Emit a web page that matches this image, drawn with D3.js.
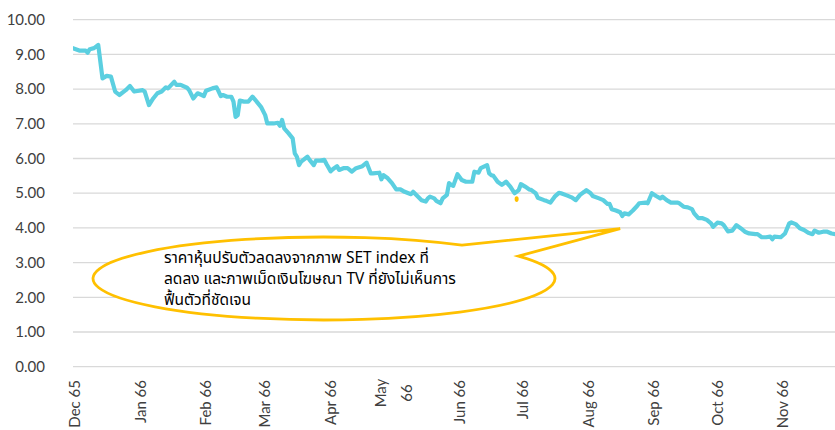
<!DOCTYPE html>
<html>
<head>
<meta charset="utf-8">
<script src="https://cdn.jsdelivr.net/npm/d3@7"></script>
<style>
  html, body { margin: 0; padding: 0; background: #fff; }
  svg { display: block; }
</style>
</head>
<body>
<svg id="chart" width="835" height="430"></svg>
<script>
// ---------------- DATA ----------------
const dates = [
  "2022-11-30","2022-12-03","2022-12-06","2022-12-07","2022-12-08","2022-12-10","2022-12-12","2022-12-14","2022-12-16","2022-12-18",
  "2022-12-20","2022-12-22","2022-12-25","2022-12-27","2022-12-29",
  "2023-01-02","2023-01-03","2023-01-05","2023-01-07","2023-01-09","2023-01-11","2023-01-13","2023-01-14","2023-01-17","2023-01-18",
  "2023-01-20","2023-01-23","2023-01-24","2023-01-26","2023-01-28","2023-01-30","2023-01-31",
  "2023-02-01","2023-02-04","2023-02-06","2023-02-07","2023-02-08","2023-02-09","2023-02-11","2023-02-13","2023-02-14","2023-02-15",
  "2023-02-16","2023-02-17","2023-02-19","2023-02-21","2023-02-23","2023-02-24","2023-02-27",
  "2023-03-01","2023-03-02","2023-03-05","2023-03-07","2023-03-08","2023-03-09","2023-03-10","2023-03-12","2023-03-14","2023-03-15",
  "2023-03-16","2023-03-17","2023-03-18","2023-03-21","2023-03-22","2023-03-24","2023-03-25","2023-03-27","2023-03-29","2023-03-30",
  "2023-04-01","2023-04-02","2023-04-04","2023-04-05","2023-04-07","2023-04-09","2023-04-11","2023-04-13","2023-04-16","2023-04-18",
  "2023-04-20","2023-04-21","2023-04-24","2023-04-25","2023-04-26","2023-04-28","2023-04-30",
  "2023-05-02","2023-05-04","2023-05-06","2023-05-09","2023-05-10","2023-05-12","2023-05-14","2023-05-16","2023-05-17","2023-05-18",
  "2023-05-20","2023-05-21","2023-05-23","2023-05-24","2023-05-26","2023-05-27","2023-05-28","2023-05-29","2023-05-31",
  "2023-06-02","2023-06-04","2023-06-07","2023-06-08","2023-06-10","2023-06-11","2023-06-14","2023-06-15","2023-06-16","2023-06-17",
  "2023-06-19","2023-06-21","2023-06-23","2023-06-25","2023-06-27","2023-06-29","2023-06-30",
  "2023-07-02","2023-07-04","2023-07-05","2023-07-07","2023-07-08","2023-07-11","2023-07-12","2023-07-14","2023-07-16","2023-07-18",
  "2023-07-19","2023-07-22","2023-07-24","2023-07-26","2023-07-28","2023-07-30","2023-07-31",
  "2023-08-02","2023-08-03","2023-08-06","2023-08-08","2023-08-10","2023-08-11","2023-08-12","2023-08-14","2023-08-16","2023-08-17",
  "2023-08-18","2023-08-20","2023-08-22","2023-08-24","2023-08-25","2023-08-28","2023-08-29","2023-08-31",
  "2023-09-02","2023-09-04","2023-09-05","2023-09-07","2023-09-09","2023-09-12","2023-09-13","2023-09-15","2023-09-17","2023-09-19",
  "2023-09-20","2023-09-22","2023-09-24","2023-09-26","2023-09-28","2023-09-29",
  "2023-10-01","2023-10-03","2023-10-04","2023-10-06","2023-10-08","2023-10-10","2023-10-12","2023-10-14","2023-10-16","2023-10-19",
  "2023-10-20","2023-10-22","2023-10-24","2023-10-26","2023-10-27","2023-10-28","2023-10-31",
  "2023-11-02","2023-11-04","2023-11-05","2023-11-07","2023-11-09","2023-11-11","2023-11-13","2023-11-15","2023-11-16","2023-11-18",
  "2023-11-20","2023-11-22","2023-11-24","2023-11-26","2023-11-28"
];
const prices = [
  9.18,9.11,9.11,9.05,9.15,9.18,9.27,8.31,8.38,8.36,
  7.93,7.83,7.97,8.09,7.93,
  7.97,7.93,7.54,7.73,7.88,7.93,8.05,8.02,8.21,8.12,
  8.12,8.04,7.97,7.73,7.88,7.83,7.80,
  7.95,8.02,8.05,7.93,7.80,7.83,7.78,7.78,7.64,7.20,
  7.25,7.67,7.64,7.64,7.78,7.71,7.49,
  7.25,7.01,7.01,7.03,6.94,7.11,6.87,6.73,6.58,6.15,
  6.05,5.81,5.91,6.05,5.96,5.81,5.94,5.94,5.96,5.84,
  5.63,5.69,5.78,5.67,5.72,5.72,5.62,5.72,5.78,5.88,
  5.57,5.57,5.59,5.40,5.52,5.43,5.29,
  5.11,5.11,5.04,4.97,5.04,4.92,4.80,4.76,4.85,4.90,
  4.85,4.78,4.71,4.85,4.95,5.29,5.24,5.21,5.55,
  5.38,5.33,5.33,5.62,5.59,5.72,5.81,5.57,5.52,5.50,
  5.33,5.24,5.33,5.19,5.00,5.09,5.26,
  5.19,5.11,5.09,5.00,4.87,4.80,4.78,4.73,4.90,5.01,
  5.00,4.93,4.88,4.80,4.95,5.04,5.09,
  5.00,4.92,4.85,4.80,4.69,4.69,4.54,4.50,4.45,4.34,
  4.42,4.39,4.50,4.63,4.71,4.73,4.71,5.00,
  4.92,4.85,4.90,4.80,4.73,4.73,4.71,4.61,4.59,4.54,
  4.42,4.28,4.28,4.23,4.13,4.03,
  4.15,4.13,4.08,3.90,3.92,4.08,3.99,3.89,3.84,3.82,
  3.82,3.73,3.73,3.75,3.67,3.75,3.73,
  3.84,4.13,4.16,4.11,3.99,3.94,3.86,3.82,3.92,3.86,
  3.89,3.89,3.84,3.82,3.82
];
const monthTicks = ["2022-12-01","2023-01-01","2023-02-01","2023-03-01","2023-04-01","2023-05-01",
                    "2023-06-01","2023-07-01","2023-08-01","2023-09-01","2023-10-01","2023-11-01"];
const monthLabels = ["Dec 65","Jan 66","Feb 66","Mar 66","Apr 66","May\n66",
                     "Jun 66","Jul 66","Aug 66","Sep 66","Oct 66","Nov 66"];
const yTicks = [0,1,2,3,4,5,6,7,8,9,10];
const calloutLines = [
  "ราคาหุ้นปรับตัวลดลงจากภาพ SET index ที่",
  "ลดลง และภาพเม็ดเงินโฆษณา TV ที่ยังไม่เห็นการ",
  "ฟื้นตัวที่ชัดเจน"
];
const calloutTip = { date: "2023-08-16", value: 3.98 };
const strayPoint = { date: "2023-06-28", value: 4.83 };

// ---------------- LAYOUT ----------------
const W = 835, H = 430;
const plotLeft = 73, plotRight = 835;
const parse = d3.timeParse("%Y-%m-%d");
const svg = d3.select("#chart");

const x = d3.scaleTime()
  .domain([parse("2022-12-01"), parse("2023-11-01")])
  .range([75, 782.9]);
const y = d3.scaleLinear().domain([0, 10]).range([366.7, 19.7]);

const latin = "Lato, 'Noto Sans', 'DejaVu Sans', sans-serif";
const textColor = "#404040";

// gridlines
svg.append("g").selectAll("line").data(yTicks).join("line")
  .attr("x1", plotLeft).attr("x2", plotRight)
  .attr("y1", d => y(d)).attr("y2", d => y(d))
  .attr("stroke", "#d9d9d9").attr("stroke-width", 1.3);

// y labels
svg.append("g").selectAll("text").data(yTicks).join("text")
  .attr("x", 45).attr("y", d => y(d)).attr("dy", "0.35em")
  .attr("text-anchor", "end")
  .attr("font-family", latin).attr("font-size", 15).attr("fill", textColor)
  .text(d => d3.format(".2f")(d));

// x labels
const xl = svg.append("g").selectAll("g").data(monthTicks.map((d, i) => ({ d: parse(d), label: monthLabels[i] })))
  .join("g")
  .attr("transform", d => `translate(${x(d.d)},380) rotate(-90)`);
xl.each(function (d) {
  const g = d3.select(this);
  const lines = d.label.split("\n");
  if (lines.length === 1) {
    g.append("text").attr("text-anchor", "end").attr("dy", "0.35em")
      .attr("font-family", latin).attr("font-size", 15).attr("fill", textColor)
      .text(lines[0]);
  } else {
    lines.forEach((t, i) => {
      g.append("text").attr("text-anchor", "middle").attr("x", -13)
        .attr("y", (i - (lines.length - 1) / 2) * 26).attr("dy", "0.35em")
        .attr("font-family", latin).attr("font-size", 15).attr("fill", textColor)
        .text(t);
    });
  }
});

// clip for line
svg.append("clipPath").attr("id", "plotclip").append("rect")
  .attr("x", plotLeft).attr("y", 0).attr("width", plotRight - plotLeft).attr("height", H);

const series = dates.map((d, i) => ({ d: parse(d), v: prices[i] }));
svg.append("path").datum(series)
  .attr("clip-path", "url(#plotclip)")
  .attr("fill", "none").attr("stroke", "#5BCFE0").attr("stroke-width", 4.2)
  .attr("stroke-linejoin", "round").attr("stroke-linecap", "round")
  .attr("d", d3.line().x(d => x(d.d)).y(d => y(d.v)));

// stray marker
svg.append("ellipse")
  .attr("cx", x(parse(strayPoint.date))).attr("cy", y(strayPoint.value))
  .attr("rx", 2).attr("ry", 2.8).attr("fill", "#FFC000");

// callout (ellipse wedge)
const cx = 324, cy = 278.5, rx = 231, ry = 41.5;
const a1 = -Math.PI * 0.5 + 0.64, a2 = -0.57;
const A = [cx + rx * Math.cos(a1), cy + ry * Math.sin(a1)];
const B = [cx + rx * Math.cos(a2), cy + ry * Math.sin(a2)];
const T = [x(parse(calloutTip.date)), y(calloutTip.value)];
svg.append("path")
  .attr("d", `M${A[0]},${A[1]} L${T[0]},${T[1]} L${B[0]},${B[1]} A${rx},${ry} 0 1 1 ${A[0]},${A[1]} Z`)
  .attr("fill", "#fff").attr("stroke", "#FFC000").attr("stroke-width", 2.8)
  .attr("stroke-linejoin", "miter");

svg.append("g").selectAll("text").data(calloutLines).join("text")
  .attr("x", 164).attr("y", (d, i) => 258 + i * 21).attr("dy", "0.35em")
  .attr("font-family", "'Noto Sans Thai', 'Noto Sans', 'DejaVu Sans', sans-serif")
  .attr("font-size", 15.5).attr("fill", "#000")
  .text(d => d);
</script>
</body>
</html>
